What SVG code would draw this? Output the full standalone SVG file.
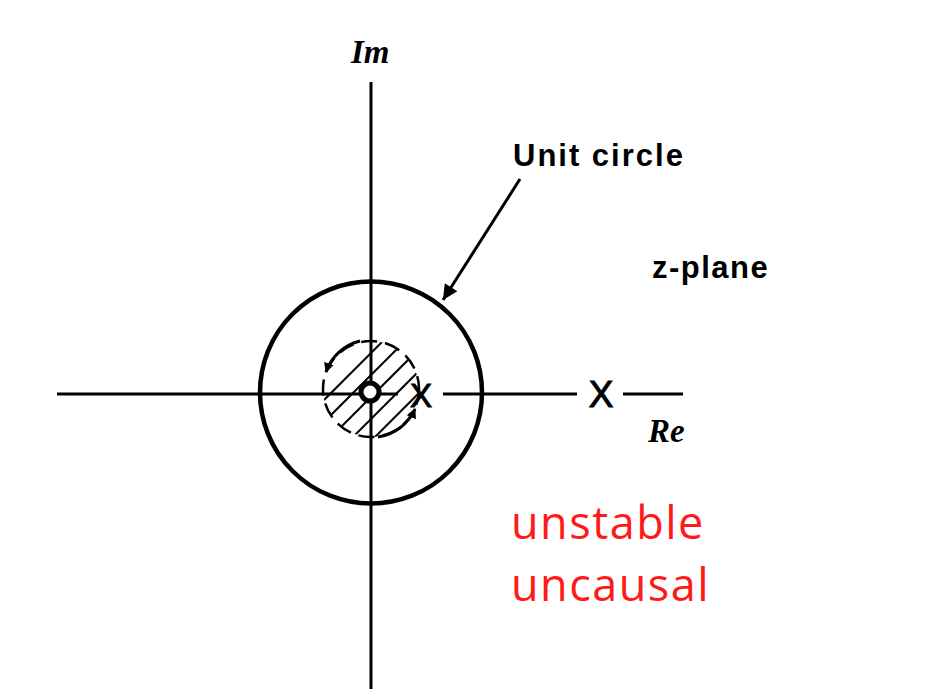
<svg xmlns="http://www.w3.org/2000/svg" width="932" height="689" viewBox="0 0 932 689">
<defs>
<style>
.ax{stroke:#000;stroke-width:3;fill:none}
.lbl{font-family:"Liberation Sans",Arial,sans-serif;font-weight:bold;font-size:31px;fill:#000}
.math{font-family:"Liberation Serif","Times New Roman",serif;font-style:italic;font-weight:bold;font-size:33px;fill:#000}
.red{font-family:"Open Sans","Noto Sans",sans-serif;font-size:45px;letter-spacing:1.5px;fill:#ff1a1a}
.hatch{stroke:#000;stroke-width:2}
.pole{font-family:"Liberation Sans",Arial,sans-serif;font-size:37px;fill:#000;stroke:#000;stroke-width:1}
</style>
<clipPath id="roc"><circle cx="371" cy="389" r="48"/></clipPath>
<marker id="ah" viewBox="0 0 10 10" refX="9" refY="5" markerWidth="10" markerHeight="10" markerUnits="userSpaceOnUse" orient="auto">
<path d="M0,0 L10,5 L0,10 z" fill="#000"/>
</marker>
<marker id="bigah" viewBox="0 0 10 10" refX="10" refY="5" markerWidth="24" markerHeight="15" markerUnits="userSpaceOnUse" orient="auto">
<path d="M0,0 L10,5 L0,10 z" fill="#000"/>
</marker>
</defs>
<rect width="932" height="689" fill="#fff"/>
<g id="axes">
<line class="ax" x1="371" y1="82" x2="371" y2="689"/>
<line class="ax" x1="57" y1="394" x2="398" y2="394"/>
<line class="ax" x1="443" y1="394" x2="577" y2="394"/>
<line class="ax" x1="623" y1="394" x2="683" y2="394"/>
</g>
<g id="roc-region">
<g clip-path="url(#roc)">
<line class="hatch" x1="300" y1="424" x2="400" y2="324"/>
<line class="hatch" x1="300" y1="446" x2="422" y2="324"/>
<line class="hatch" x1="312" y1="456" x2="444" y2="324"/>
<line class="hatch" x1="334" y1="456" x2="466" y2="324"/>
<line class="hatch" x1="356" y1="456" x2="488" y2="324"/>
</g>
<circle cx="371" cy="389" r="48" fill="none" stroke="#000" stroke-width="2.5" stroke-dasharray="16 8"/>
<path d="M360,341 A48,48 0 0 0 326,372" fill="none" stroke="#000" stroke-width="3" marker-end="url(#ah)"/>
<path d="M378,437 A48,48 0 0 0 415,409" fill="none" stroke="#000" stroke-width="3" marker-end="url(#ah)"/>
</g>
<g id="unit-circle">
<circle cx="371" cy="392.5" r="111" fill="none" stroke="#000" stroke-width="4.5"/>
</g>
<g id="zero">
<circle cx="370" cy="392" r="9" fill="#fff" stroke="#000" stroke-width="5"/>
</g>
<g id="pole-inner"><text class="pole" x="421" y="407" text-anchor="middle" style="font-size:33px">X</text></g>
<g id="pole-outer"><text class="pole" x="601" y="407" text-anchor="middle">X</text></g>
<g id="connectors">
<line x1="520" y1="179" x2="443" y2="300" stroke="#000" stroke-width="3" marker-end="url(#bigah)"/>
</g>
<g id="labels">
<text class="math" x="351" y="63">Im</text>
<text class="lbl" x="513" y="166" style="letter-spacing:2px">Unit circle</text>
<text class="lbl" x="652" y="278" style="letter-spacing:1.5px">z-plane</text>
<text class="math" x="648" y="442">Re</text>
<text class="red" x="511" y="539">unstable</text>
<text class="red" x="511" y="601">uncausal</text>
</g>
</svg>
